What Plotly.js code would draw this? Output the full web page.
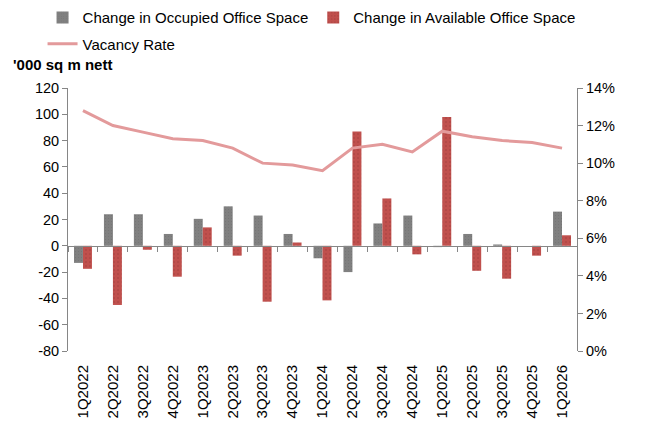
<!DOCTYPE html>
<html>
<head>
<meta charset="utf-8">
<script src="https://cdn.plot.ly/plotly-3.0.1.min.js"></script>
<style>html,body{margin:0;padding:0;background:#fff;}#chart{width:652px;height:424px;}</style>
</head>
<body>
<div id="chart"></div>
<script>
const quarters = ["1Q2022","2Q2022","3Q2022","4Q2022","1Q2023","2Q2023","3Q2023","4Q2023","1Q2024","2Q2024","3Q2024","4Q2024","1Q2025","2Q2025","3Q2025","4Q2025","1Q2026"];
const occupiedChange = [-13, 24, 24, 9, 20.5, 30, 23, 9, -9.5, -20, 17, 23, -1, 9, 1, 0, 26];
const availableChange = [-17.5, -45, -3, -23.5, 14, -7.5, -42.5, 2.5, -41.5, 87, 36, -6.5, 98, -19, -25, -7.5, 8];
const vacancyRate = [12.8, 12.0, 11.65, 11.3, 11.2, 10.8, 10.0, 9.9, 9.6, 10.8, 11.0, 10.6, 11.7, 11.4, 11.2, 11.1, 10.8];
const leftTicks = [-80, -60, -40, -20, 0, 20, 40, 60, 80, 100, 120];
const rightTicks = [0, 2, 4, 6, 8, 10, 12, 14];

const FONT = "Liberation Sans, Arial, sans-serif";
const axisGray = "#868686";

const traces = [
  {
    type: "bar", name: "Change in Occupied Office Space",
    x: quarters, y: occupiedChange, xaxis: "x", yaxis: "y",
    marker: {color: "#808080", line: {width: 0},
      pattern: {shape: ".", fgcolor: "#747474", bgcolor: "#808080", size: 3, solidity: 0.12}},
    legend: "legend"
  },
  {
    type: "bar", name: "Change in Available Office Space",
    x: quarters, y: availableChange, xaxis: "x", yaxis: "y",
    marker: {color: "#C0504D", line: {width: 0},
      pattern: {shape: ".", fgcolor: "#a23f3d", bgcolor: "#C0504D", size: 4, solidity: 0.12}},
    legend: "legend"
  },
  {
    type: "scatter", mode: "lines", name: "Vacancy Rate",
    x: quarters, y: vacancyRate, xaxis: "x2", yaxis: "y2",
    line: {color: "#E39A9B", width: 3},
    legend: "legend2"
  }
];

const layout = {
  width: 652, height: 424,
  margin: {l: 68, r: 75, t: 88, b: 73, autoexpand: false},
  paper_bgcolor: "#fff", plot_bgcolor: "#fff",
  font: {family: FONT, size: 15, color: "#000"},
  barmode: "group", bargap: 0.4, bargroupgap: 0,
  showlegend: true,
  legend: {orientation: "h", x: -0.05, xanchor: "left", y: 1.33, yanchor: "top",
    font: {family: FONT, size: 15, color: "#000"}, bgcolor: "rgba(0,0,0,0)", traceorder: "normal"},
  legend2: {orientation: "h", x: -0.05, xanchor: "left", y: 1.23, yanchor: "top",
    font: {family: FONT, size: 15, color: "#000"}, bgcolor: "rgba(0,0,0,0)"},
  xaxis: {
    type: "category", categoryorder: "array", categoryarray: quarters,
    range: [-0.5, quarters.length - 0.5],
    anchor: "free", position: 0.4,
    showline: true, linecolor: axisGray, linewidth: 1,
    ticks: "outside", tickson: "boundaries", ticklen: 5, tickcolor: axisGray,
    showticklabels: false, showgrid: false, zeroline: false
  },
  xaxis2: {
    type: "category", categoryorder: "array", categoryarray: quarters,
    overlaying: "x", anchor: "y", side: "bottom",
    range: [-0.5, quarters.length - 0.5],
    showline: false, showgrid: false, zeroline: false, ticks: "",
    ticklabelstandoff: 10,
    tickangle: -90, tickfont: {family: FONT, size: 15, color: "#000"}
  },
  yaxis: {
    range: [-80, 120], tickvals: leftTicks, ticktext: leftTicks.map(String),
    showline: true, linecolor: axisGray, linewidth: 1,
    ticks: "outside", ticklen: 5, tickcolor: axisGray,
    showgrid: false, zeroline: false,
    tickfont: {family: FONT, size: 14.5, color: "#000"}
  },
  yaxis2: {
    range: [0, 14], tickvals: rightTicks, ticktext: rightTicks.map(v => v + "%"),
    overlaying: "y", side: "right", anchor: "x2",
    showline: true, linecolor: axisGray, linewidth: 1,
    ticks: "outside", ticklen: 5, tickcolor: axisGray,
    showgrid: false, zeroline: false,
    tickfont: {family: FONT, size: 14.5, color: "#000"}
  },
  annotations: [{
    text: "<b>'000 sq m nett</b>", xref: "paper", yref: "paper",
    x: -0.112, y: 1.0875, xanchor: "left", yanchor: "middle", showarrow: false,
    font: {family: FONT, size: 15, color: "#000"}
  }]
};

Plotly.newPlot("chart", traces, layout, {displayModeBar: false, staticPlot: true});
</script>
</body>
</html>
